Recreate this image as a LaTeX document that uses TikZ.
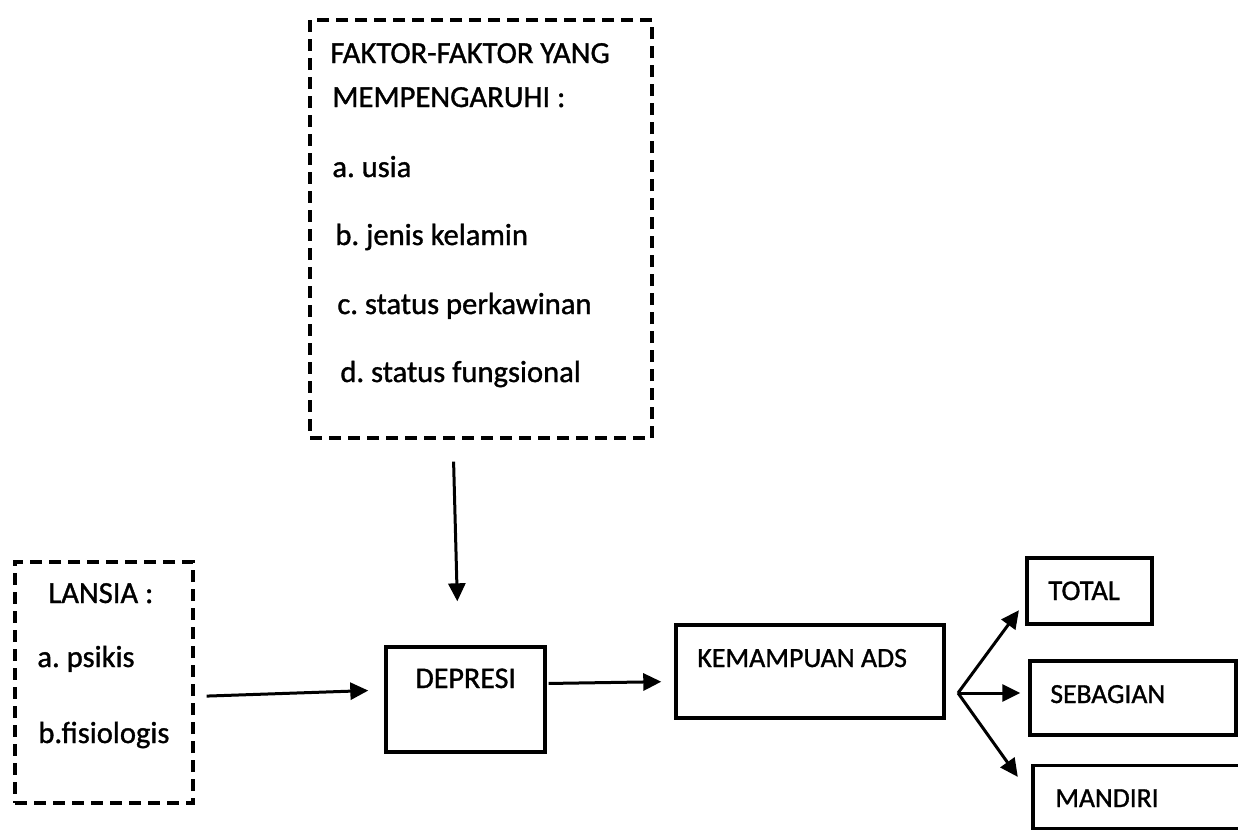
\documentclass[tikz,border=0pt]{standalone}
\usepackage{fontspec}
\setmainfont{Carlito}[FakeBold=1.1]
\usetikzlibrary{arrows.meta}
\frenchspacing
\begin{document}
\frenchspacing
\begin{tikzpicture}[x=0.5pt,y=-0.5pt,
  box/.style={draw, line width=1.7pt, inner sep=0pt},
  dbox/.style={box, dash pattern=on 6pt off 3.5pt},
  txt/.style={anchor=base west, inner sep=0pt, font=\fontsize{15.3}{18}\selectfont},
  stxt/.style={txt, font=\fontsize{14.3}{17}\selectfont},
  arr/.style={-{Triangle[length=9pt,width=8.5pt]}, line width=1.5pt}]
\useasboundingbox (0,0) rectangle (1238,830);
\clip (0,0) rectangle (1238,830);
% boxes
\node[dbox, minimum width=171pt, minimum height=209pt] (faktor) at (481,229) {};
\node[dbox, minimum width=89pt, minimum height=120.5pt] (lansia) at (104,682.5) {};
\node[box, minimum width=79.5pt, minimum height=52.5pt] (depresi) at (465.5,699.5) {};
\node[box, minimum width=134pt, minimum height=46.5pt] (ads) at (810,671.5) {};
\node[box, minimum width=62.5pt, minimum height=33pt] (total) at (1089.5,591) {};
\node[box, minimum width=103pt, minimum height=37pt] (sebagian) at (1133,698) {};
\node[box, minimum width=110pt, minimum height=31.5pt] (mandiri) at (1143,797) {};
% texts
\node[txt] (f1) at (330,63) {FAKTOR-FAKTOR YANG};
\node[txt] (f2) at (332,107) {MEMPENGARUHI :};
\node[txt] (f3) at (332,177) {a. usia};
\node[txt] (f4) at (335,245) {b. jenis kelamin};
\node[txt] (f5) at (337,314) {c. status perkawinan};
\node[txt] (f6) at (340,382) {d. status fungsional};
\node[txt] (l1) at (48,603) {LANSIA :};
\node[txt] (l2) at (37,667) {a. psikis};
\node[txt] (l3) at (38,743) {b.fisiologis};
\node[txt, font=\fontsize{15}{18}\selectfont] (dt) at (415,688) {DEPRESI};
\node[stxt, font=\fontsize{13.9}{17}\selectfont] (at) at (697,667) {KEMAMPUAN ADS};
\node[stxt] (tt) at (1048,600) {TOTAL};
\node[stxt, font=\fontsize{13.8}{17}\selectfont] (st) at (1050,703) {SEBAGIAN};
\node[stxt, font=\fontsize{13.8}{17}\selectfont] (mt) at (1055,807) {MANDIRI};
% connectors
\draw[arr, shorten <=11pt, shorten >=22pt] ([xshift=-14pt]faktor.south) -- ([xshift=-3.5pt]depresi.north);
\draw[arr, shorten <=6pt, shorten >=8pt] ([yshift=-7pt]lansia.east) -- ([yshift=4.75pt]depresi.west);
\draw[arr, shorten <=1pt, shorten >=6.5pt] ([yshift=8pt]depresi.east) -- ([yshift=-5pt]ads.west);
\coordinate (br) at (958,693);
\draw[arr, shorten >=2pt] (br) -- ([xshift=-2pt,yshift=-8pt]total.west);
\draw[arr, shorten >=4pt] (br) -- (sebagian.west |- br);
\draw[arr, shorten >=3pt] (br) -- ([xshift=-5pt,yshift=-9pt]mandiri.north west);
\end{tikzpicture}
\end{document}
